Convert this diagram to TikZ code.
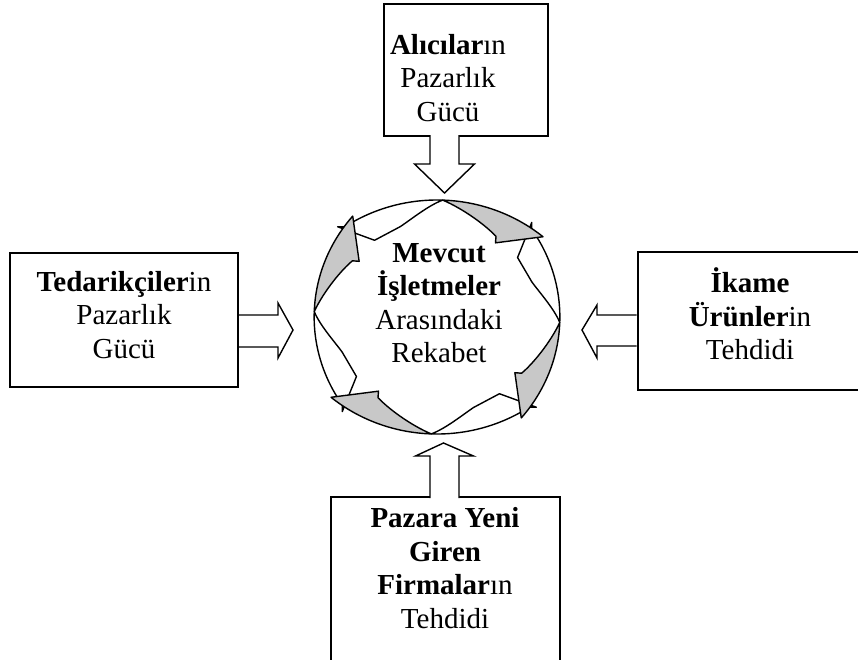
\documentclass[tikz,border=0pt]{standalone}
\usepackage{fontspec}
\setmainfont{Liberation Serif}
\usetikzlibrary{calc}
\definecolor{tailgray}{RGB}{200,200,200}
\begin{document}
\begin{tikzpicture}[x=1pt,y=-1pt,
  frame/.style={draw, line width=1.7pt, fill=white, inner sep=0pt},
  label/.style={align=center, inner sep=0pt, font=\fontsize{29}{33.5}\selectfont},
  block/.style={draw, line width=1.4pt, fill=white, line join=miter},
  face/.style={draw, line width=1.4pt, fill=white, line join=round},
  tail/.style={draw, line width=1.4pt, fill=tailgray, line join=round}]
\useasboundingbox (0,0) rectangle (858,659);
\clip (0,0) rectangle (858,659);

% the four outer boxes
\node[frame, minimum width=164pt, minimum height=132pt] (buyers) at (466,70) {};
\node[frame, minimum width=228pt, minimum height=134pt] (suppliers) at (124,320) {};
\node[frame, minimum width=224pt, minimum height=138pt] (substitutes) at (750,321) {};
\node[frame, minimum width=229pt, minimum height=186pt] (entrants) at (445.5,590) {};

\node[label] (buyersT) at (448,78) {\textbf{Alıcılar}ın\\Pazarlık\\Gücü};
\node[label] (suppliersT) at (124,315) {\textbf{Tedarikçiler}in\\Pazarlık\\Gücü};
\node[label] (substitutesT) at (750,314) {\textbf{İkame}\\\textbf{Ürünler}in\\Tehdidi};
\node[label] (entrantsT) at (445,568) {\textbf{Pazara Yeni}\\\textbf{Giren}\\\textbf{Firmalar}ın\\Tehdidi};

% cycle of four twisted curved arrows; each one is an arc of a wider
% circle whose centre lies 40pt beyond the middle of the ring
\begin{scope}[shift={(437,317)}, xscale=1.05]
  \foreach \r in {0,90,180,270} {
    \begin{scope}[rotate=\r, shift={(0,40)}]
      \path[face] (-88:157) arc[start angle=-88, end angle=-124, radius=157]
        -- (-126:161) -- (-117:131) -- (-105:135)
        .. controls (-100:140) and (-93:152) .. (-88:157) -- cycle;
    \end{scope}
  }
  \foreach \r in {0,90,180,270} {
    \begin{scope}[rotate=\r, shift={(0,40)}]
      \path[tail] (-50:157) arc[start angle=-50, end angle=-88, radius=157]
        .. controls (-80:150) and (-70:139) .. (-65:133) -- (-64:127) -- cycle;
    \end{scope}
  }
\end{scope}

\node[label] (core) at (439,303) {\textbf{Mevcut}\\\textbf{İşletmeler}\\Arasındaki\\Rekabet};

% block arrows pointing at the centre
\coordinate (aTop) at (444.5,136);
\coordinate (aBot) at (444.5,497);
\coordinate (aLeft) at (238,331);
\coordinate (aRight) at (637.5,330.5);

\draw[block] ($(aTop)+(-14.5,-1)$) -- ($(aTop)+(-14.5,28)$) -- ($(aTop)+(-30,28)$)
  -- ($(aTop)+(0,57)$) -- ($(aTop)+(30,28)$) -- ($(aTop)+(14.5,28)$) -- ($(aTop)+(14.5,-1)$);
\draw[block] ($(aBot)+(-14.5,1)$) -- ($(aBot)+(-14.5,-41)$) -- ($(aBot)+(-29,-41)$)
  -- ($(aBot)+(-1,-54)$) -- ($(aBot)+(29,-41)$) -- ($(aBot)+(14.5,-41)$) -- ($(aBot)+(14.5,1)$);
\draw[block] ($(aLeft)+(1,-16)$) -- ($(aLeft)+(40,-16)$) -- ($(aLeft)+(40,-28)$)
  -- ($(aLeft)+(55,-1)$) -- ($(aLeft)+(40,27)$) -- ($(aLeft)+(40,16)$) -- ($(aLeft)+(1,16)$);
\draw[block] ($(aRight)+(-1,-15.5)$) -- ($(aRight)+(-40.5,-15.5)$) -- ($(aRight)+(-40.5,-25.5)$)
  -- ($(aRight)+(-55.5,-0.5)$) -- ($(aRight)+(-40.5,27.5)$) -- ($(aRight)+(-40.5,15.5)$) -- ($(aRight)+(-1,15.5)$);
\end{tikzpicture}
\end{document}
